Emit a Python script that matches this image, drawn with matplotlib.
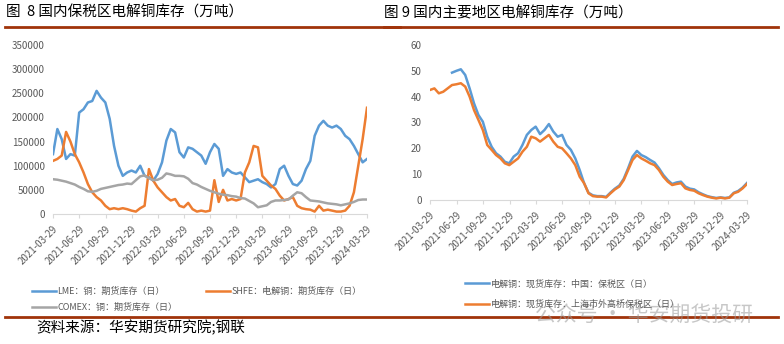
import numpy as np
import pandas as pd
import matplotlib
matplotlib.use('Agg')
import matplotlib.pyplot as plt
import matplotlib.dates as mdates

plt.rcParams['font.family'] = ['Noto Sans CJK SC', 'DejaVu Sans']

# semi-monthly sampling dates, 2021-03-29 .. 2024-03-29
dates = pd.date_range('2021-03-29', '2024-03-29', periods=73)
ticks = pd.date_range('2021-03-29', periods=13, freq=pd.DateOffset(months=3))

# fig 8, tonnes (thousands)
lme = [124, 176, 155, 114, 124, 121, 210, 217, 231, 234, 255, 241, 231, 197, 141, 100,
       79, 86, 90, 86, 100, 79, 76, 69, 83, 107, 152, 176, 169, 128, 117, 138,
       135, 128, 121, 104, 128, 145, 135, 79, 93, 86, 83, 86, 76, 66, 69, 72,
       66, 62, 55, 62, 93, 100, 79, 62, 59, 69, 93, 110, 162, 183, 193, 183,
       179, 183, 176, 162, 155, 141, 124, 107, 114]
shfe = [110, 114, 121, 170, 150, 124, 107, 86, 62, 45, 35, 28, 17, 10, 12, 10,
        12, 10, 7, 5, 12, 17, 93, 69, 55, 45, 35, 28, 31, 17, 14, 23,
        10, 5, 7, 5, 7, 70, 25, 50, 28, 31, 28, 31, 86, 107, 141, 138,
        79, 69, 59, 52, 38, 28, 31, 35, 17, 12, 10, 9, 5, 17, 7, 9,
        7, 5, 5, 7, 17, 45, 100, 155, 220]
comex = [72, 71, 69, 67, 64, 61, 56, 52, 47, 46, 48, 52, 54, 56, 58, 60,
         61, 63, 62, 70, 78, 80, 74, 70, 71, 75, 84, 82, 79, 79, 78, 73,
         64, 61, 56, 52, 48, 45, 42, 40, 39, 37, 36, 33, 32, 27, 22, 14,
         16, 18, 25, 28, 28, 29, 30, 38, 45, 43, 35, 28, 27, 26, 24, 22,
         21, 20, 18, 20, 22, 25, 29, 30, 30]

# fig 9, 10k tonnes
bonded = [np.nan] * 5 + [
    49.3, 50.0, 50.6, 48.4, 43.2, 37.4, 32.9, 30.3, 24.5, 20.6, 18.1,
    16.8, 14.8, 14.2, 16.8, 18.1, 21.3, 25.2, 27.1, 28.4, 25.5, 27.1,
    29.4, 26.5, 24.5, 25.2, 21.3, 19.4, 16.1, 11.6, 6.5, 2.8, 1.8, 1.5,
    1.5, 1.2, 2.9, 4.4, 5.6, 8.2, 12.3, 16.8, 19.0, 17.4, 16.6, 15.5,
    14.5, 12.3, 9.7, 7.7, 6.2, 6.8, 7.1, 5.2, 4.4, 4.1, 3.0, 2.2, 1.5,
    1.1, 0.8, 1.0, 0.8, 1.0, 2.8, 3.5, 4.8, 6.6]
waigaoqiao = [42.6, 43.2, 41.3, 41.9, 43.2, 44.5, 44.8, 45.2, 43.9, 40.0, 34.8, 31.0,
              27.1, 21.3, 19.4, 17.4, 16.1, 14.2, 13.5, 14.8, 16.1, 18.7, 20.6, 24.5,
              23.9, 22.6, 23.9, 25.2, 22.6, 20.6, 20.0, 18.1, 16.1, 13.5, 9.0, 6.5,
              2.6, 1.5, 1.3, 1.3, 1.0, 2.6, 4.1, 5.2, 7.7, 11.6, 15.5, 17.4,
              16.1, 15.2, 14.2, 13.5, 11.6, 9.0, 7.1, 5.8, 6.2, 6.5, 4.5, 3.9,
              3.6, 2.6, 1.9, 1.3, 0.9, 0.6, 0.9, 0.6, 0.9, 2.6, 3.2, 4.5, 6.2]

BLUE, ORANGE, GRAY = '#5B9BD5', '#ED7D31', '#A5A5A5'
BROWN = '#A0330A'
TXT = '#595959'

W, H = 784, 344
fig = plt.figure(figsize=(W / 100, H / 100), dpi=100)

def box(x0, y0, x1, y1):
    return [x0 / W, 1 - y1 / H, (x1 - x0) / W, (y1 - y0) / H]

def style(ax):
    for s in ['left', 'right', 'top']:
        ax.spines[s].set_visible(False)
    ax.spines['bottom'].set_color('#d9d9d9')
    ax.set_xlim(ticks[0], ticks[-1])
    ax.set_xticks(ticks)
    ax.xaxis.set_major_formatter(mdates.DateFormatter('%Y-%m-%d'))
    ax.tick_params(axis='x', colors='#d9d9d9', labelcolor=TXT, labelsize=7,
                   length=3, pad=4)
    ax.tick_params(axis='y', length=0, labelcolor=TXT, labelsize=7, pad=6)
    for lab in ax.get_xticklabels():
        lab.set_rotation(45)
        lab.set_ha('right')
        lab.set_rotation_mode('anchor')

# left chart
ax1 = fig.add_axes(box(53, 45, 367, 214))
ax1.plot(dates, np.array(lme) * 1000, color=BLUE, lw=1.8, label='LME：铜：期货库存（日）')
ax1.plot(dates, np.array(shfe) * 1000, color=ORANGE, lw=1.8, label='SHFE：电解铜：期货库存（日）')
ax1.plot(dates, np.array(comex) * 1000, color=GRAY, lw=1.8, label='COMEX：铜：期货库存（日）')
ax1.set_ylim(0, 350000)
ax1.set_yticks(np.arange(0, 350001, 50000))
style(ax1)
h, l = ax1.get_legend_handles_labels()
fig.legend([h[0], h[2], h[1]], [l[0], l[2], l[1]], ncol=2, loc='upper left',
           bbox_to_anchor=(24 / W, 1 - 279 / H), frameon=False, fontsize=6.5,
           handlelength=2.6, handletextpad=0.2, columnspacing=3.2,
           labelspacing=0.75, labelcolor=TXT)

# right chart
ax2 = fig.add_axes(box(430, 45, 747, 200))
ax2.plot(dates, bonded, color=BLUE, lw=1.8, label='电解铜：现货库存：中国：保税区（日）')
ax2.plot(dates, waigaoqiao, color=ORANGE, lw=1.8, label='电解铜：现货库存：上海市外高桥保税区（日）')
ax2.set_ylim(0, 60)
ax2.set_yticks(np.arange(0, 61, 10))
style(ax2)
fig.legend(*ax2.get_legend_handles_labels(), loc='upper left',
           bbox_to_anchor=(457 / W, 1 - 271 / H), frameon=False, fontsize=6.5,
           handlelength=2.6, handletextpad=0.2, labelspacing=1.25, labelcolor=TXT)

# titles, rules, source
fig.text(6 / W, 1 - 13 / H, '图  8 国内保税区电解铜库存（万吨）', fontsize=10.5, va='center')
fig.text(384 / W, 1 - 13 / H, '图 9 国内主要地区电解铜库存（万吨）', fontsize=10.5, va='center')
fig.add_artist(plt.Line2D([5 / W, 400 / W], [1 - 27 / H] * 2, color=BROWN, lw=2))
fig.add_artist(plt.Line2D([384 / W, 778 / W], [1 - 27 / H] * 2, color=BROWN, lw=2))
fig.add_artist(plt.Line2D([5 / W, 778 / W], [1 - 317 / H] * 2, color=BROWN, lw=2))
fig.text(36 / W, 1 - 328 / H, '资料来源：华安期货研究院;钢联', fontsize=10.5, va='center')
fig.text(535 / W, 1 - 315 / H, '公众号 · 华安期货投研', fontsize=15, va='center',
         color='#9a9a9a', alpha=0.55)

fig.savefig('out.png', dpi=100)
